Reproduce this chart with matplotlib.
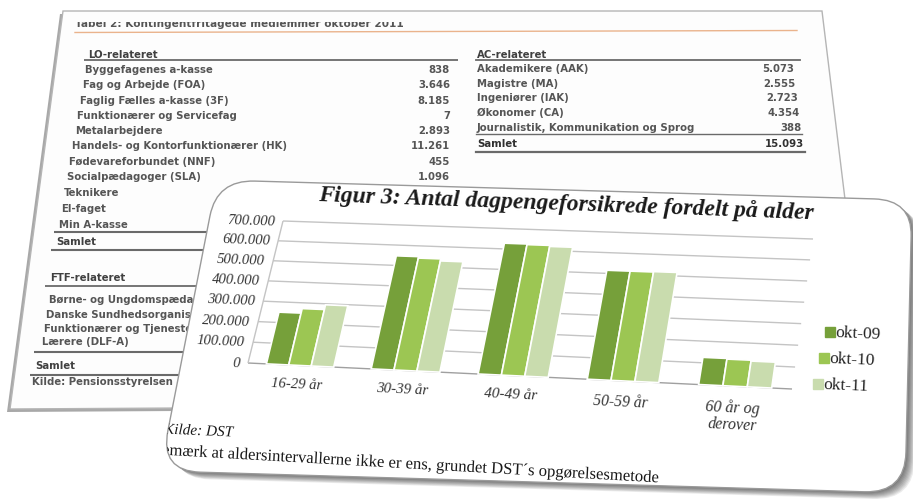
import numpy as np
import matplotlib
matplotlib.use('Agg')
import matplotlib.pyplot as plt
import matplotlib.transforms as mtransforms
import matplotlib.patheffects as pe
from matplotlib.patches import Polygon, FancyBboxPatch, Rectangle, PathPatch

#### chart data
age_groups = ['16-29 år', '30-39 år', '40-49 år', '50-59 år', '60 år og\nderover']
okt_09 = [250000, 547000, 628000, 515000, 125000]
okt_10 = [272000, 540000, 625000, 515000, 122000]
okt_11 = [295000, 530000, 620000, 517000, 118000]
series_names = ['okt-09', 'okt-10', 'okt-11']
series_colors = ['#76a03a', '#9cc653', '#c9dcae']
y_ticks = [0, 100000, 200000, 300000, 400000, 500000, 600000, 700000]

#### table data (background sheet)
lo_names = ['Byggefagenes a-kasse', 'Fag og Arbejde (FOA)', 'Faglig Fælles a-kasse (3F)',
            'Funktionærer og Servicefag', 'Metalarbejdere',
            'Handels- og Kontorfunktionærer (HK)', 'Fødevareforbundet (NNF)',
            'Socialpædagoger (SLA)', 'Teknikere', 'El-faget', 'Min A-kasse']
lo_values = ['838', '3.646', '8.185', '7', '2.893', '11.261', '455', '1.096', '', '', '']
ac_names = ['Akademikere (AAK)', 'Magistre (MA)', 'Ingeniører (IAK)', 'Økonomer (CA)',
            'Journalistik, Kommunikation og Sprog']
ac_values = ['5.073', '2.555', '2.723', '4.354', '388']
ac_total = '15.093'
ftf_names = ['Børne- og Ungdomspædagoger', 'Danske Sundhedsorganisationer',
             'Funktionærer og Tjenestemænd', 'Lærere (DLF-A)']


def homography(src, dst):
    A, b = [], []
    for (x, y), (u, v) in zip(src, dst):
        A.append([x, y, 1, 0, 0, 0, -u * x, -u * y]); b.append(u)
        A.append([0, 0, 0, x, y, 1, -v * x, -v * y]); b.append(v)
    h = np.linalg.solve(np.array(A, float), np.array(b, float))
    return np.append(h, 1).reshape(3, 3)


class Persp(mtransforms.Transform):
    input_dims = output_dims = 2
    is_separable = False
    has_inverse = False

    def __init__(self, H):
        super().__init__()
        self.H = np.asarray(H, float)

    def transform_non_affine(self, values):
        v = np.asarray(values, float)
        shp = v.shape
        v = v.reshape(-1, 2)
        p = np.column_stack([v[:, 0], v[:, 1], np.ones(len(v))]) @ self.H.T
        return (p[:, :2] / p[:, 2:3]).reshape(shp)


fig = plt.figure(figsize=(9.13, 5.02), dpi=100)
ax = fig.add_axes([0, 0, 1, 1])
ax.set_xlim(0, 913)
ax.set_ylim(502, 0)
ax.axis('off')

#### background sheet with the table
sans = 'DejaVu Sans'
tcol = '#555555'
paper = [(63, 12), (822, 12), (870, 405), (10, 410)]
ax.add_patch(Polygon([(x - 3, y + 3) for x, y in paper], closed=True, fc='#a8a8a8', ec='none', zorder=0))
ax.add_patch(Polygon(paper, closed=True, fc='#fdfdfd', ec='#b5b5b5', lw=1, zorder=1))

t = ax.text(75, 24, 'Tabel 2: Kontingentfritagede medlemmer oktober 2011', family=sans,
            weight='bold', size=7.6, color=tcol, va='center', zorder=2, clip_on=True)
t.set_clip_path(Rectangle((0, 23), 913, 40, transform=ax.transData))
ax.plot([75, 797], [33.5, 31.5], color='#eab38c', lw=1, zorder=2)


def xl(y):
    return 97 - 0.17 * y


def rule(y, x1, lw=1.0):
    ax.plot([xl(y) - 3, x1], [y, y], color='#6a6a6a', lw=lw, zorder=2, solid_capstyle='butt')


ax.text(xl(55), 55, 'LO-relateret', family=sans, weight='bold', size=7.3, color='#404040', va='center', zorder=2)
rule(61, 458, 1.3)
lo_y = [70, 85, 101, 116, 131, 146, 162, 177, 193, 209, 225]
for name, val, y in zip(lo_names, lo_values, lo_y):
    ax.text(xl(y), y, name, family=sans, weight='bold', size=7.3, color=tcol, va='center', zorder=2)
    ax.text(450, y, val, family=sans, weight='bold', size=7.3, color=tcol, va='center', ha='right', zorder=2)
rule(233, 460, 1.5)
ax.text(xl(242), 242, 'Samlet', family=sans, weight='bold', size=7.3, color='#404040', va='center', zorder=2)
rule(251, 460, 1.5)
ax.text(xl(278), 278, 'FTF-relateret', family=sans, weight='bold', size=7.3, color='#404040', va='center', zorder=2)
rule(287, 460, 1.3)
for name, y in zip(ftf_names, [300, 315, 329, 342]):
    ax.text(xl(y) + 3, y, name, family=sans, weight='bold', size=7.3, color=tcol, va='center', zorder=2)
rule(353, 460, 1.5)
ax.text(xl(366), 366, 'Samlet', family=sans, weight='bold', size=7.3, color='#404040', va='center', zorder=2)
rule(376, 460, 1.5)
ax.text(xl(382), 382, 'Kilde: Pensionsstyrelsen', family=sans, weight='bold', size=7.3, color=tcol, va='center', zorder=2)

ax.text(477, 55, 'AC-relateret', family=sans, weight='bold', size=7.3, color='#404040', va='center', zorder=2)
ax.plot([476, 800], [61, 61], color='#6a6a6a', lw=1.3, zorder=2)
ac_y = [69, 84, 98, 113, 128]
for name, val, y in zip(ac_names, ac_values, ac_y):
    ax.text(477, y, name, family=sans, weight='bold', size=7.3, color=tcol, va='center', zorder=2)
    ax.text(785 + 0.13 * y, y, val, family=sans, weight='bold', size=7.3, color=tcol, va='center', ha='right', zorder=2)
ax.plot([476, 802], [135, 135], color='#6a6a6a', lw=1, zorder=2)
ax.text(477, 144, 'Samlet', family=sans, weight='bold', size=7.3, color='#303030', va='center', zorder=2)
ax.text(804, 144, ac_total, family=sans, weight='bold', size=7.3, color='#303030', va='center', ha='right', zorder=2)
ax.plot([476, 805], [153, 153], color='#6a6a6a', lw=1.6, zorder=2)

#### foreground card (perspective)
CW, CH = 700, 290
H_card = homography([(0, 0), (CW, 0), (CW, CH), (0, CH)],
                    [(217, 181), (912, 201), (905, 494), (160, 472)])
T_card = Persp(H_card) + ax.transData
card_style = 'round,pad=0,rounding_size=38'
for i in range(1, 10):
    sh = FancyBboxPatch((0, 0), CW, CH, boxstyle=card_style,
                        fc='black', ec='none', alpha=0.075,
                        transform=Persp(H_card) + mtransforms.Affine2D().translate(i * 1.0, i * 0.8) + ax.transData,
                        zorder=5)
    ax.add_patch(sh)
card = FancyBboxPatch((0, 0), CW, CH, boxstyle=card_style,
                      fc='white', ec='#9a9a9a', lw=1, transform=T_card, zorder=6)
ax.add_patch(card)
# card outline in figure pixel space, used to clip the footnotes
card_clip = PathPatch(Persp(H_card).transform_path(card.get_path()), transform=ax.transData)

#### bar chart mapped onto the card
serif = 'Liberation Serif'
P_chart = mtransforms.Affine2D().scale(1, 1e-5) + Persp(homography(
    [(-0.5, 0), (-0.5, 7), (4.5, 7), (4.5, 0)],
    [(248, 364), (283, 222), (813, 240), (792, 390)]))
T_chart = P_chart + ax.transData


def local_angle(x, v):
    p0, p1 = P_chart.transform(np.array([[x, v], [x + 0.2, v]], float))
    return -np.degrees(np.arctan2(p1[1] - p0[1], p1[0] - p0[0]))


ax.hlines(y_ticks[1:], -0.5, 4.5, colors='#c4c4c4', lw=1, transform=T_chart, zorder=7)
ax.hlines([0], -0.5, 4.5, colors='#a0a0a0', lw=1, transform=T_chart, zorder=7)
ax.vlines([-0.5], 0, y_ticks[-1], colors='#c4c4c4', lw=1, transform=T_chart, zorder=7)

x = np.arange(len(age_groups))
bw = 0.215
for k, (vals, col) in enumerate(zip([okt_09, okt_10, okt_11], series_colors)):
    ax.bar(x + (k - 1) * bw, vals, bw, color=col, edgecolor='white', lw=1.2,
           transform=T_chart, zorder=8)

for v in y_ticks:
    lab = '0' if v == 0 else f'{v:,}'.replace(',', '.')
    ax.text(-0.58, v, lab, transform=T_chart, ha='right', va='center', family=serif,
            style='italic', size=10.5, color='#333333', rotation=local_angle(-0.5, v),
            rotation_mode='anchor', zorder=9)
for i, lab in enumerate(age_groups):
    ax.text(i, -55000, lab, transform=T_chart, ha='center', va='top', family=serif,
            style='italic', size=10.5 + 0.25 * i, color='#333333', linespacing=1.05,
            rotation=local_angle(i, -55000), rotation_mode='anchor', zorder=9)

ax.text(566, 204, 'Figur 3: Antal dagpengeforsikrede fordelt på alder', family=serif,
        weight='bold', style='italic', size=17, color='#1a1a1a', ha='center', va='center',
        rotation=-2.1, rotation_mode='anchor', zorder=9)

for (lx, ly), name, col in zip([(830, 333), (824, 359), (818, 385)], series_names, series_colors):
    ax.plot([lx], [ly], marker='s', ms=6.5, color=col, zorder=9)
    ax.text(lx + 6, ly, name, family=serif, size=12.5, color='#222222', va='center',
            rotation=-2.5, rotation_mode='anchor', zorder=9)

# drawn as paths (Normal path effect) so the card outline can clip them
t1 = ax.text(164, 431, 'Kilde: DST', family=serif, style='italic', size=11, color='#1a1a1a',
             va='center', rotation=-2.5, rotation_mode='anchor', zorder=9, clip_on=True,
             path_effects=[pe.Normal()])
t2 = ax.text(151, 451, 'Bemærk at aldersintervallerne ikke er ens, grundet DST´s opgørelsesmetode',
             family=serif, size=12, color='#1a1a1a', va='center', rotation=-3.2,
             rotation_mode='anchor', zorder=9, clip_on=True, path_effects=[pe.Normal()])
t1.set_clip_path(card_clip)
t2.set_clip_path(card_clip)

fig.savefig('out.png', dpi=100)
